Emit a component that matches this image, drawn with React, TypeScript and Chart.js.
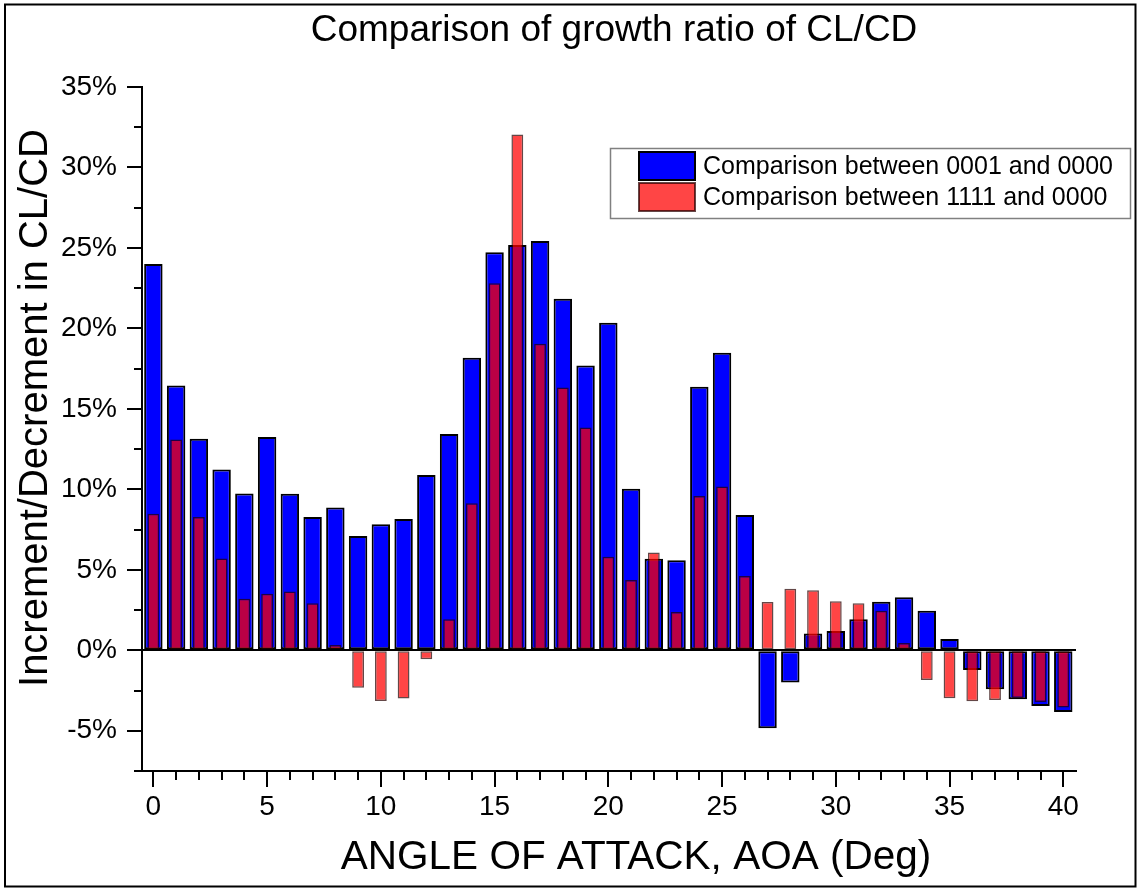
import { useEffect, useRef } from 'react';
import { Chart, registerables } from 'chart.js';

Chart.register(...registerables);

// Angle of attack (deg), one bar pair per degree
const angles = [
  0, 1, 2, 3, 4, 5, 6, 7, 8, 9, 10, 11, 12, 13, 14, 15, 16, 17, 18, 19, 20,
  21, 22, 23, 24, 25, 26, 27, 28, 29, 30, 31, 32, 33, 34, 35, 36, 37, 38, 39, 40,
];

// Growth ratio of CL/CD in percent
const growth0001 = [
  24.0, 16.46, 13.15, 11.24, 9.75, 13.25, 9.73, 8.28, 8.88, 7.1, 7.83, 8.16, 10.89,
  13.44, 18.18, 24.74, 25.18, 25.43, 21.84, 17.7, 20.35, 10.04, 5.69, 5.59, 16.38,
  18.49, 8.41, -4.84, -2.0, 1.04, 1.2, 1.93, 3.02, 3.29, 2.46, 0.7, -1.22, -2.42,
  -3.04, -3.46, -3.83,
];
const growth1111 = [
  8.49, 13.1, 8.28, 5.71, 3.21, 3.52, 3.66, 2.92, 0.33, -2.32, -3.15, -3.0, -0.56,
  1.93, 9.13, 22.8, 32.05, 19.05, 16.33, 13.85, 5.82, 4.37, 6.07, 2.38, 9.58, 10.17,
  4.61, 3.0, 3.83, 3.73, 3.04, 2.92, 2.46, 0.45, -1.84, -2.98, -3.17, -3.09, -2.96,
  -3.21, -3.56,
];

const seriesLabels = ['Comparison between 0001 and 0000', 'Comparison between 1111 and 0000'];
const chartTitle = 'Comparison of growth ratio of CL/CD';
const xTitle = 'ANGLE OF ATTACK, AOA (Deg)';
const yTitle = 'Increment/Decrement in CL/CD';

const X_MIN = -0.5;
const X_MAX = 40.56;
const Y_MIN = -7.5;
const Y_MAX = 35;
const Y_MINOR_STEP = 2.5;

const FONT = '"Liberation Sans", Arial, Helvetica, sans-serif';

const BLUE = '#0000FF';
const RED = 'rgba(255,0,0,0.73)';
const RED_EDGE = 'rgba(40,0,0,0.72)';

const decorations = {
  id: 'decorations',
  afterDraw(chart: any) {
    const { ctx, scales } = chart;
    const xs = scales.x;
    const ys = scales.y;
    const area = chart.chartArea;
    ctx.save();
    ctx.fillStyle = '#000';
    ctx.strokeStyle = '#000';

    // tick marks: majors longer than minors
    ctx.lineWidth = 2;
    ctx.beginPath();
    for (const a of angles) {
      const px = Math.round(xs.getPixelForValue(a));
      const len = a % 5 === 0 ? 16 : 9;
      ctx.moveTo(px, area.bottom);
      ctx.lineTo(px, area.bottom + len);
    }
    for (let v = Y_MIN; v <= Y_MAX + 1e-9; v += Y_MINOR_STEP) {
      const py = Math.round(ys.getPixelForValue(v));
      const len = Math.abs(v % 5) < 1e-9 ? 15 : 8;
      ctx.moveTo(area.left, py);
      ctx.lineTo(area.left - len, py);
    }
    ctx.stroke();

    // title and axis titles
    ctx.textAlign = 'center';
    ctx.textBaseline = 'middle';
    ctx.font = `37px ${FONT}`;
    ctx.fillText(chartTitle, 614, 31);
    ctx.font = `40.5px ${FONT}`;
    ctx.fillText(xTitle, 636, 858);
    ctx.save();
    ctx.translate(36, 408);
    ctx.rotate(-Math.PI / 2);
    ctx.font = `40px ${FONT}`;
    ctx.fillText(yTitle, 0, 0);
    ctx.restore();

    // legend box
    ctx.lineWidth = 1.5;
    ctx.strokeStyle = '#808080';
    ctx.strokeRect(610.5, 148.5, 520, 70);
    const swatches = [
      { fill: BLUE, edge: '#000', y: 152 },
      { fill: RED, edge: RED_EDGE, y: 183 },
    ];
    ctx.font = `25px ${FONT}`;
    ctx.textAlign = 'left';
    swatches.forEach((s, i) => {
      ctx.fillStyle = s.fill;
      ctx.fillRect(639, s.y, 56, 28);
      ctx.strokeStyle = s.edge;
      ctx.lineWidth = 2;
      ctx.strokeRect(639, s.y, 56, 28);
      ctx.fillStyle = '#000';
      ctx.fillText(seriesLabels[i], 703, s.y + 15);
    });

    // outer frame
    ctx.strokeStyle = '#000';
    ctx.lineWidth = 2;
    ctx.strokeRect(5, 4.5, 1130.5, 882);
    ctx.restore();
  },
};

export default function App() {
  const ref = useRef<HTMLCanvasElement>(null);

  useEffect(() => {
    const canvas = ref.current;
    if (!canvas) return;
    const chart = new Chart(canvas, {
      type: 'bar',
      data: {
        datasets: [
          {
            label: seriesLabels[0],
            data: angles.map((a, i) => ({ x: a, y: growth0001[i] })),
            backgroundColor: BLUE,
            borderColor: '#000',
            borderWidth: 2,
            borderSkipped: false,
            barPercentage: 0.81,
            categoryPercentage: 1,
            grouped: false,
            order: 2,
          },
          {
            label: seriesLabels[1],
            data: angles.map((a, i) => ({ x: a, y: growth1111[i] })),
            backgroundColor: RED,
            borderColor: RED_EDGE,
            borderWidth: 1.5,
            borderSkipped: false,
            barPercentage: 0.52,
            categoryPercentage: 1,
            grouped: false,
            order: 1,
          },
        ],
      } as any,
      options: {
        responsive: false,
        animation: false,
        layout: { padding: { top: 87, right: 61, bottom: 0, left: 0 } },
        plugins: {
          legend: { display: false },
          title: { display: false },
          tooltip: { enabled: false },
        },
        scales: {
          x: {
            type: 'linear',
            min: X_MIN,
            max: X_MAX,
            offset: false,
            grid: { display: false, drawTicks: false },
            border: { display: true, color: '#000', width: 2 },
            ticks: {
              stepSize: 5,
              includeBounds: false,
              autoSkip: false,
              maxRotation: 0,
              padding: 19,
              color: '#000',
              font: { family: FONT, size: 28 },
            },
            afterFit: (s: any) => {
              s.height = 117;
            },
          },
          y: {
            type: 'linear',
            min: Y_MIN,
            max: Y_MAX,
            grid: {
              drawTicks: false,
              color: (c: any) => (c.tick && c.tick.value === 0 ? '#000' : 'rgba(0,0,0,0)'),
              lineWidth: 2,
            },
            border: { display: true, color: '#000', width: 2 },
            ticks: {
              stepSize: 5,
              includeBounds: false,
              padding: 25,
              color: '#000',
              font: { family: FONT, size: 28 },
              callback: (v: any) => `${v}%`,
            },
            afterFit: (s: any) => {
              s.width = 142;
            },
          },
        },
      } as any,
      plugins: [decorations],
    });
    return () => chart.destroy();
  }, []);

  return (
    <div style={{ position: 'absolute', left: 0, top: 0, width: 1137, height: 888, background: '#fff' }}>
      <canvas ref={ref} width={1137} height={888} />
    </div>
  );
}
